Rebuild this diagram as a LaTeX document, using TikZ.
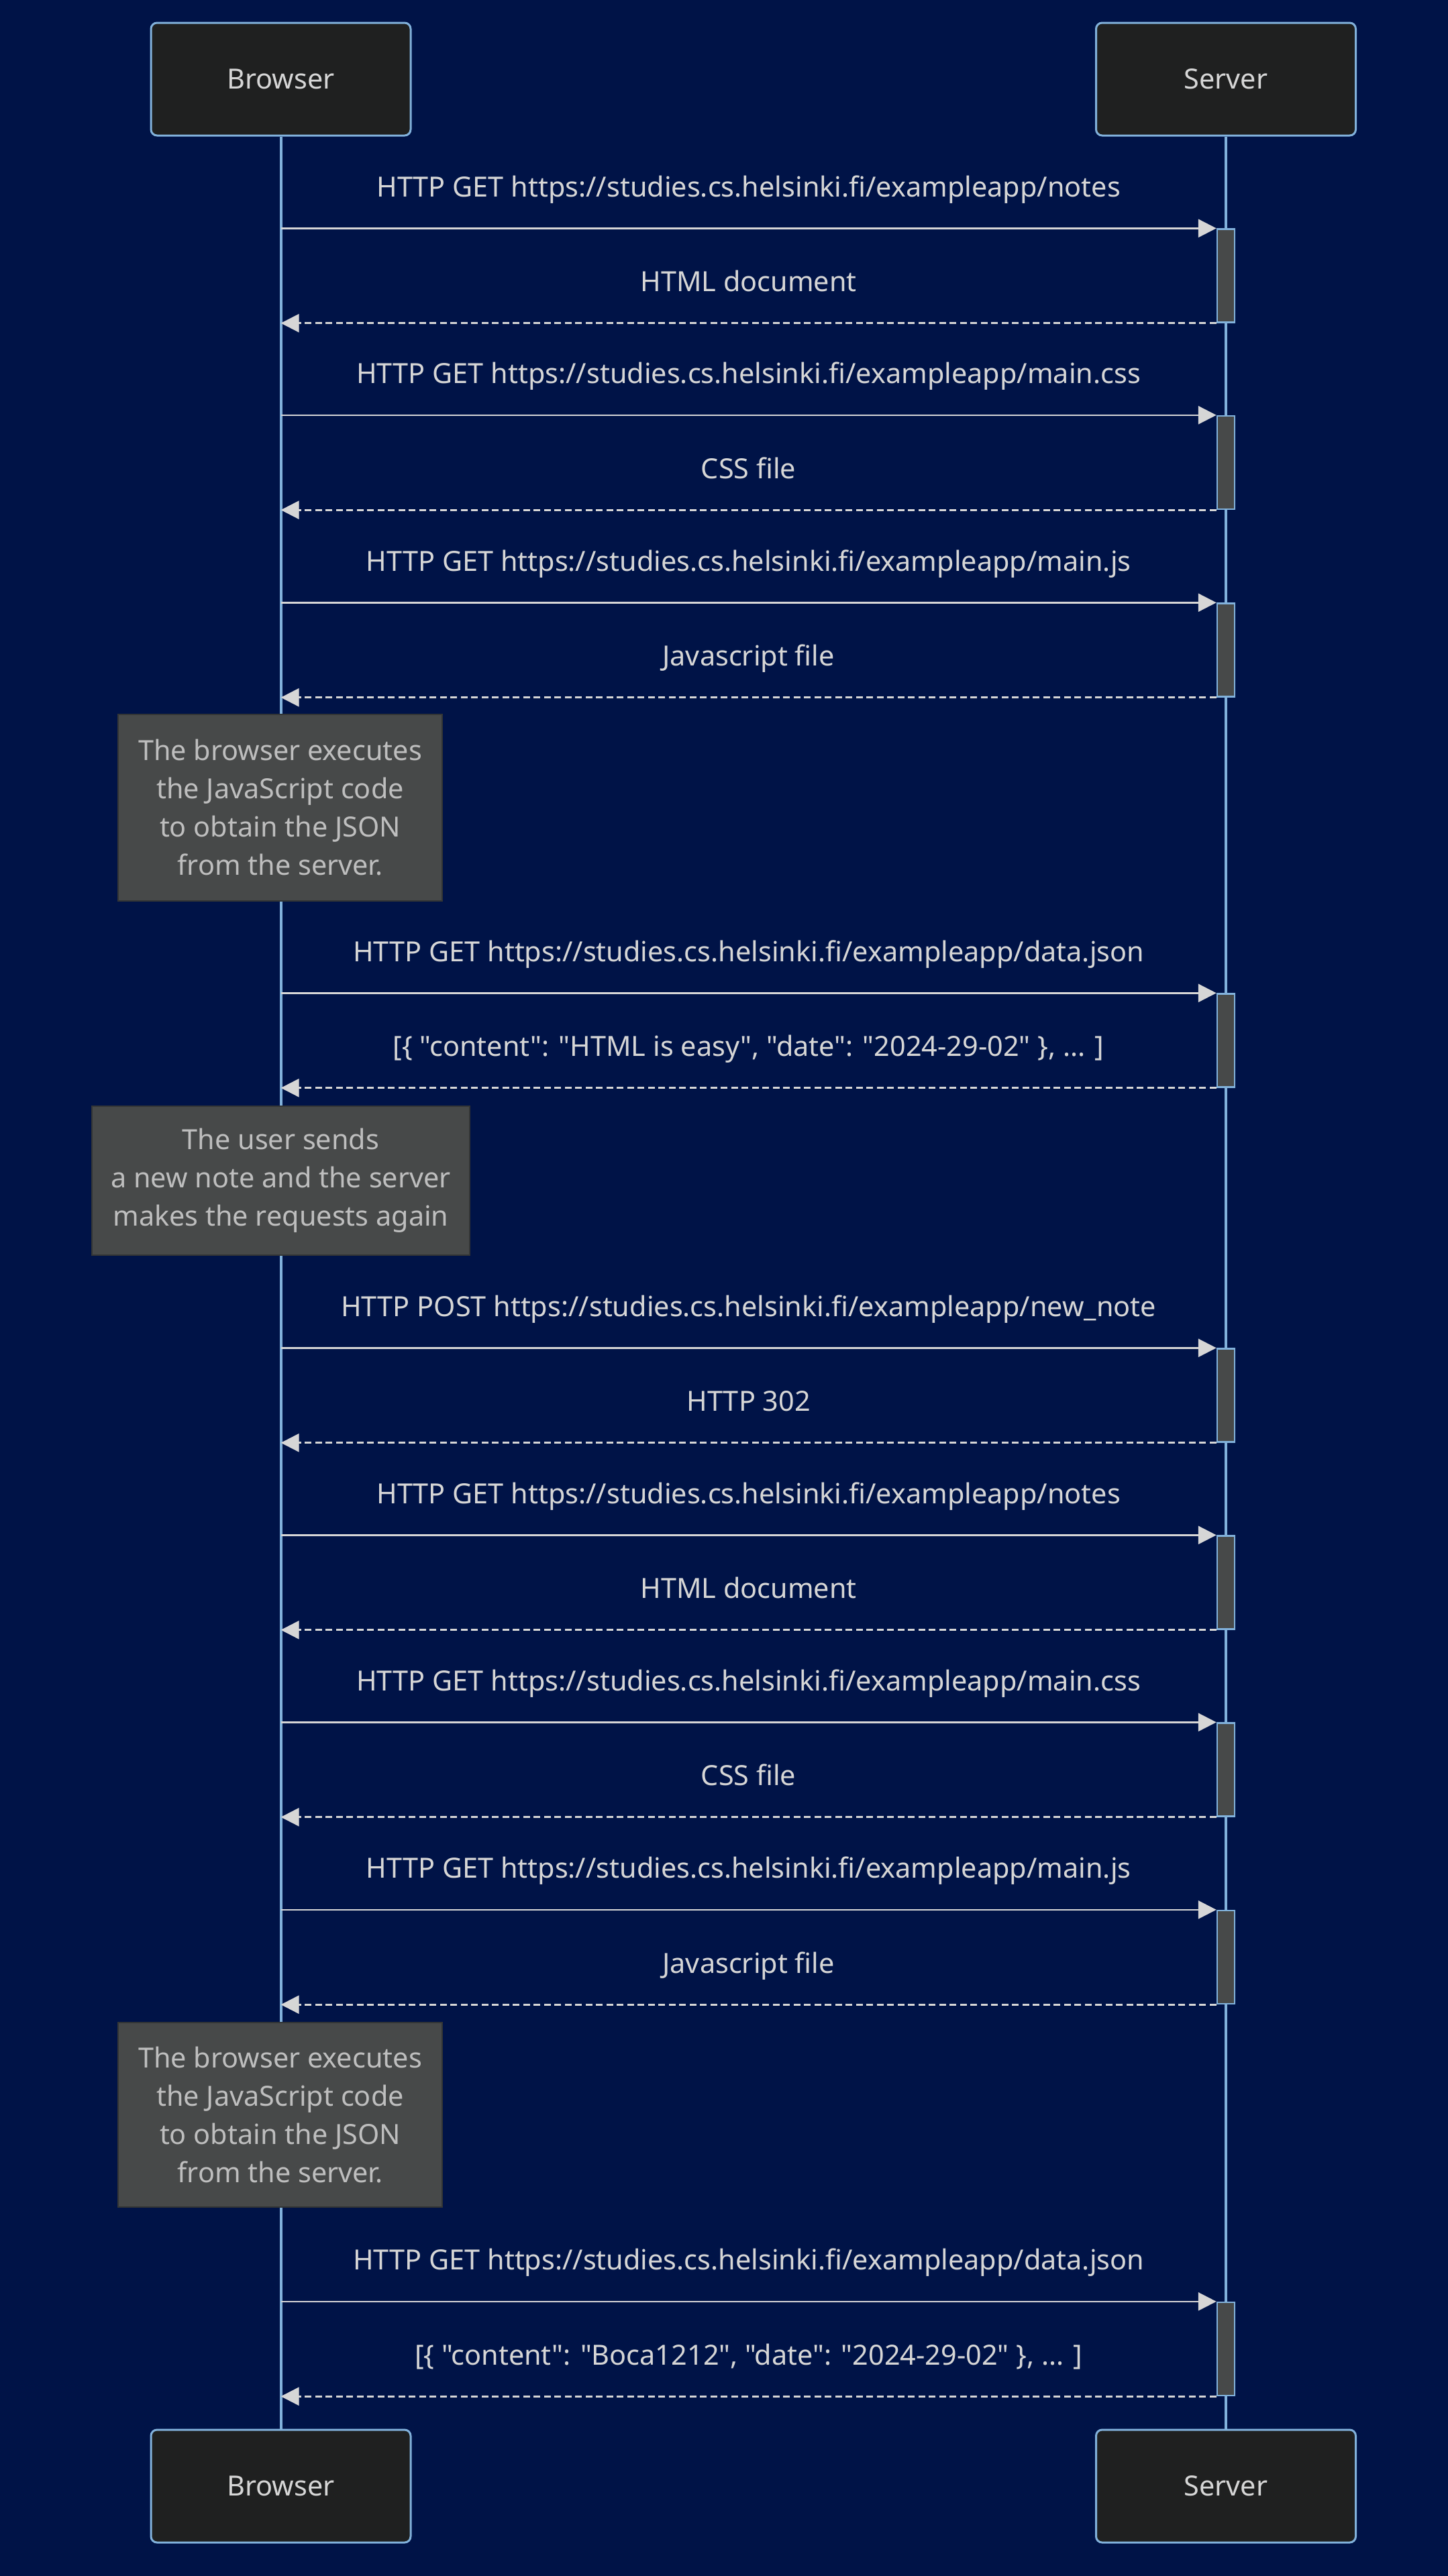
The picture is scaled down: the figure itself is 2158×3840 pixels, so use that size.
\documentclass[tikz,border=0pt]{standalone}
\usepackage{fontspec}
\setmainfont{Noto Sans}[Ligatures=TeXOff]
\usetikzlibrary{arrows.meta}

\definecolor{bgnavy}{HTML}{001347}
\definecolor{actorfill}{HTML}{1F2020}
\definecolor{lifeblue}{HTML}{81B1DB}
\definecolor{msggrey}{HTML}{D6D6D6}
\definecolor{notefill}{HTML}{474949}
\definecolor{noteline}{HTML}{333535}
\definecolor{notetext}{HTML}{BEBEBE}

\begin{document}
\begin{tikzpicture}[x=0.5pt, y=-0.5pt, >={Triangle[length=13.5pt,width=13.5pt]},
        actor/.style={draw=lifeblue, line width=1.5pt, fill=actorfill, rounded corners=4.5pt,
            minimum width=193.5pt, minimum height=84pt, text=msggrey, font=\fontsize{20.7}{25}\selectfont},
        lifeline/.style={draw=lifeblue, line width=2pt},
        actbar/.style={draw=lifeblue, line width=1.2pt, fill=notefill, minimum width=13pt,
            minimum height=69.5pt, inner sep=0pt},
        msg/.style={->, draw=msggrey, line width=1.3pt},
        reply/.style={msg, dash pattern=on 5pt off 2.75pt},
        msglabel/.style={midway, anchor=base, yshift=23.5pt, text=msggrey, font=\fontsize{20.7}{25}\selectfont},
        note/.style={draw=noteline, line width=1.2pt, fill=notefill, text=notetext, align=center,
            font=\fontsize{20.7}{28.5}\selectfont}]
        % ==== BACKGROUND ====
        \fill[bgnavy] (0,0) rectangle (2158,3840);
        \useasboundingbox (0,0) rectangle (2158,3840);
        % ==== ACTORS ====
        \node[actor] (btop) at (418.5,118) {Browser};
        \node[actor] (stop) at (1827,118) {Server};
        \node[actor] (bbot) at (418.5,3706) {Browser};
        \node[actor] (sbot) at (1827,3706) {Server};
        \draw[lifeline] (btop) -- (bbot);
        \draw[lifeline] (stop) -- (sbot);

        % ==== PAGE LOAD ====
        \node[actbar] (a1) at (1827,411) {};
        \draw[msg] (a1.north west -| btop) -- (a1.north west) node[msglabel] {HTTP GET https://studies.cs.helsinki.fi/exampleapp/notes};
        \draw[reply] (a1.south west) -- (a1.south west -| btop) node[msglabel] {HTML document};
        \node[actbar] (a2) at (1827,689.5) {};
        \draw[msg] (a2.north west -| btop) -- (a2.north west) node[msglabel] {HTTP GET https://studies.cs.helsinki.fi/exampleapp/main.css};
        \draw[reply] (a2.south west) -- (a2.south west -| btop) node[msglabel] {CSS file};
        \node[actbar] (a3) at (1827,969) {};
        \draw[msg] (a3.north west -| btop) -- (a3.north west) node[msglabel] {HTTP GET https://studies.cs.helsinki.fi/exampleapp/main.js};
        \draw[reply] (a3.south west) -- (a3.south west -| btop) node[msglabel] {Javascript file};
        \node[note, minimum width=241.5pt, minimum height=139pt] (n1) at (417.5,1204)
            {The browser executes\\the JavaScript code\\to obtain the JSON\\from the server.};
        \node[actbar] (a4) at (1827,1551) {};
        \draw[msg] (a4.north west -| btop) -- (a4.north west) node[msglabel] {HTTP GET https://studies.cs.helsinki.fi/exampleapp/data.json};
        \draw[reply] (a4.south west) -- (a4.south west -| btop) node[msglabel] {[\{ "content": "HTML is easy", "date": "2024-29-02" \}, ... ]};

        % ==== NEW NOTE ====
        \node[note, minimum width=281.5pt, minimum height=111pt] (n2) at (418.5,1760)
            {The user sends\\a new note and the server\\makes the requests again};
        \node[actbar] (a5) at (1827,2080) {};
        \draw[msg] (a5.north west -| btop) -- (a5.north west) node[msglabel] {HTTP POST https://studies.cs.helsinki.fi/exampleapp/new\_note};
        \draw[reply] (a5.south west) -- (a5.south west -| btop) node[msglabel] {HTTP 302};
        \node[actbar] (a6) at (1827,2359) {};
        \draw[msg] (a6.north west -| btop) -- (a6.north west) node[msglabel] {HTTP GET https://studies.cs.helsinki.fi/exampleapp/notes};
        \draw[reply] (a6.south west) -- (a6.south west -| btop) node[msglabel] {HTML document};
        \node[actbar] (a7) at (1827,2638) {};
        \draw[msg] (a7.north west -| btop) -- (a7.north west) node[msglabel] {HTTP GET https://studies.cs.helsinki.fi/exampleapp/main.css};
        \draw[reply] (a7.south west) -- (a7.south west -| btop) node[msglabel] {CSS file};
        \node[actbar] (a8) at (1827,2917.5) {};
        \draw[msg] (a8.north west -| btop) -- (a8.north west) node[msglabel] {HTTP GET https://studies.cs.helsinki.fi/exampleapp/main.js};
        \draw[reply] (a8.south west) -- (a8.south west -| btop) node[msglabel] {Javascript file};
        \node[note, minimum width=241.5pt, minimum height=137.5pt] (n3) at (417.5,3152.5)
            {The browser executes\\the JavaScript code\\to obtain the JSON\\from the server.};
        \node[actbar] (a9) at (1827,3501.5) {};
        \draw[msg] (a9.north west -| btop) -- (a9.north west) node[msglabel] {HTTP GET https://studies.cs.helsinki.fi/exampleapp/data.json};
        \draw[reply] (a9.south west) -- (a9.south west -| btop) node[msglabel] {[\{ "content": "Boca1212", "date": "2024-29-02" \}, ... ]};
\end{tikzpicture}
\end{document}
